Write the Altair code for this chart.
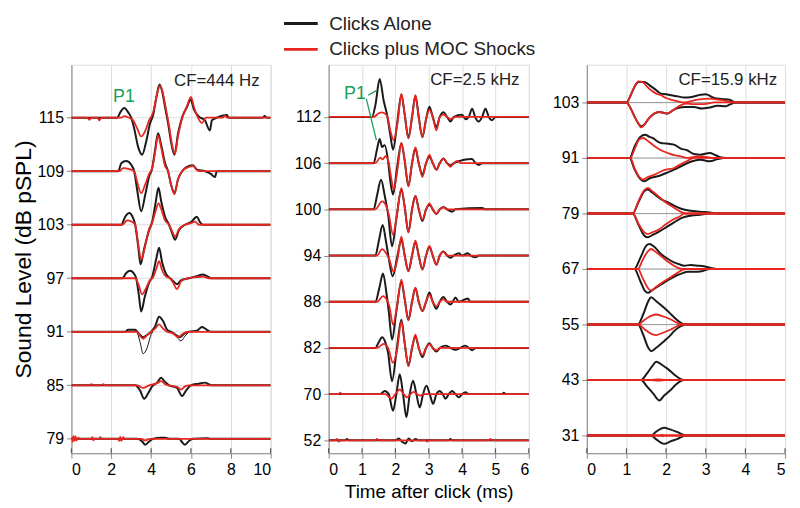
import altair as alt
import pandas as pd

FONT = "Liberation Sans"
BLACK = "#1a1a1a"
RED = "#e8251f"
GREEN = "#1aa05a"
FRAME = "#555555"
TXT = "#222222"

SERIES = ["Clicks Alone", "Clicks plus MOC Shocks"]

# ---------------- Panel A : CF = 444 Hz ----------------
A_LEVELS = [79, 85, 91, 97, 103, 109, 115]
A_XMAX = 10
A_XTICKS = [0, 2, 4, 6, 8, 10]
A_BLACK = {
    115: [(2.3, 0), (2.45, 0.1), (2.65, 0.18), (2.85, 0.1), (3.0, 0.0), (3.15, -0.2), (3.35, -0.55), (3.55, -0.69),
          (3.75, -0.45), (3.95, -0.1), (4.1, 0.05), (4.25, 0.35), (4.42, 0.62), (4.55, 0.5), (4.7, 0.2), (4.85, -0.1),
          (5.0, -0.45), (5.17, -0.69), (5.35, -0.3), (5.55, 0.0), (5.8, 0.2), (5.98, 0.34), (6.15, 0.15), (6.4, 0.02),
          (6.7, -0.05), (6.95, -0.24), (7.05, -0.05), (7.3, 0.0), (7.8, 0.05), (7.9, 0), (9.6, 0), (9.7, 0.03), (9.8, 0)],
    109: [(2.35, 0), (2.5, 0.15), (2.75, 0.19), (3.0, 0.12), (3.15, 0.0), (3.3, -0.35), (3.5, -0.75), (3.7, -0.45),
          (3.9, -0.1), (4.05, 0.05), (4.2, 0.4), (4.35, 0.71), (4.5, 0.5), (4.7, 0.15), (4.85, 0), (5.0, -0.25),
          (5.17, -0.41), (5.35, -0.15), (5.6, 0.02), (5.9, 0.1), (6.1, 0.11), (6.3, 0.03), (6.7, 0), (7.0, -0.05),
          (7.2, -0.11), (7.3, 0)],
    103: [(2.5, 0), (2.7, 0.15), (2.9, 0.22), (3.1, 0.12), (3.2, 0), (3.35, -0.4), (3.47, -0.74), (3.65, -0.45),
          (3.9, -0.1), (4.05, 0.05), (4.22, 0.4), (4.37, 0.69), (4.5, 0.45), (4.7, 0.15), (4.9, 0), (5.05, -0.15),
          (5.2, -0.28), (5.4, -0.1), (5.7, 0), (6.0, 0.05), (6.3, 0.15), (6.45, 0.05), (6.6, 0)],
    97: [(2.55, 0), (2.75, 0.1), (2.95, 0.14), (3.15, 0.08), (3.25, 0), (3.38, -0.3), (3.5, -0.62), (3.68, -0.35),
         (3.9, -0.08), (4.05, 0.02), (4.25, 0.35), (4.4, 0.57), (4.55, 0.3), (4.75, 0.08), (4.95, 0), (5.1, -0.05),
         (5.3, -0.11), (5.5, -0.04), (5.9, 0), (6.3, 0.04), (6.6, 0.07), (6.9, 0.02), (7.0, 0)],
    91: [(2.7, 0), (2.85, 0.04), (3.2, 0.04), (3.3, 0), (3.45, -0.06), (3.6, -0.1), (3.8, -0.06), (4.0, 0),
         (4.2, 0.1), (4.4, 0.28), (4.6, 0.2), (4.8, 0.04), (5.0, 0), (5.2, -0.05), (5.45, -0.1), (5.65, -0.04),
         (5.9, 0), (6.3, 0.02), (6.55, 0.09), (6.75, 0.05), (7.0, 0)],
    85: [(3.2, 0), (3.45, -0.1), (3.65, -0.25), (3.85, -0.15), (4.05, -0.02), (4.3, 0.05), (4.5, 0.14), (4.7, 0.06),
         (4.9, 0), (5.3, -0.05), (5.55, -0.2), (5.75, -0.1), (6.0, 0), (6.4, 0.03), (6.7, 0.05), (6.95, 0.01), (7.05, 0)],
    79: [(3.3, 0), (3.55, -0.05), (3.7, -0.11), (3.9, -0.05), (4.1, 0), (4.5, 0.02), (4.7, 0.02), (4.9, 0), (5.4, 0),
         (5.55, -0.06), (5.7, -0.11), (5.9, -0.04), (6.1, 0), (6.8, 0.01), (7.0, 0)],
}
A_RED = {
    115: [(0.8, 0), (0.9, -0.04), (1.0, 0), (1.3, 0), (1.4, -0.05), (1.5, 0), (2.5, 0), (2.65, 0.03), (2.9, 0),
          (3.1, -0.05), (3.3, -0.2), (3.5, -0.35), (3.7, -0.25), (3.9, -0.05), (4.1, 0.1), (4.3, 0.45), (4.45, 0.6),
          (4.6, 0.45), (4.75, 0.15), (4.9, -0.15), (5.05, -0.5), (5.2, -0.67), (5.35, -0.35), (5.55, -0.02),
          (5.8, 0.22), (6.0, 0.39), (6.15, 0.2), (6.35, 0.0), (6.55, -0.1), (6.75, 0), (7.6, 0), (7.7, 0.04), (7.8, 0)],
    109: [(2.4, 0), (2.6, 0.06), (2.9, 0.04), (3.15, 0), (3.3, -0.2), (3.5, -0.41), (3.7, -0.25), (3.9, -0.05),
          (4.05, 0.05), (4.2, 0.35), (4.35, 0.67), (4.5, 0.45), (4.7, 0.1), (4.85, 0), (5.0, -0.25), (5.17, -0.43),
          (5.35, -0.15), (5.6, 0.02), (5.9, 0.08), (6.1, 0.1), (6.3, 0.02), (6.5, 0)],
    103: [(2.55, 0), (2.8, 0.08), (3.1, 0.04), (3.2, 0), (3.35, -0.35), (3.5, -0.65), (3.7, -0.4), (3.9, -0.08),
          (4.05, 0.03), (4.22, 0.25), (4.37, 0.4), (4.5, 0.3), (4.7, 0.08), (4.9, 0), (5.05, -0.12), (5.2, -0.22),
          (5.4, -0.08), (5.7, 0), (6.0, 0.03), (6.2, 0.06), (6.4, 0)],
    97: [(3.2, 0), (3.35, -0.1), (3.55, -0.3), (3.75, -0.18), (3.95, -0.03), (4.1, 0.02), (4.28, 0.2), (4.4, 0.32),
         (4.55, 0.15), (4.75, 0.03), (4.95, 0), (5.1, -0.08), (5.3, -0.2), (5.5, -0.06), (5.8, 0), (6.3, 0.02),
         (6.6, 0.03), (6.9, 0)],
    91: [(3.3, 0), (3.45, -0.08), (3.6, -0.13), (3.8, -0.06), (4.0, 0), (4.2, 0.06), (4.4, 0.14), (4.6, 0.06),
         (4.8, 0), (5.1, -0.03), (5.35, -0.1), (5.55, -0.05), (5.8, 0)],
    85: [(0.9, 0), (1.0, 0.02), (1.1, 0), (1.5, 0), (1.6, 0.02), (1.7, 0), (3.3, 0), (3.6, -0.05), (3.9, 0),
         (4.3, 0.04), (4.5, 0.08), (4.7, 0.02), (4.9, 0), (5.3, -0.03), (5.5, -0.08), (5.7, -0.02), (5.9, 0)],
    79: [(0.0, 0.03), (0.05, -0.06), (0.1, 0.05), (0.15, -0.04), (0.2, 0.05), (0.25, -0.03), (0.35, 0.02), (0.4, 0),
         (1.0, 0), (1.05, 0.03), (1.1, -0.03), (1.15, 0), (1.4, 0), (1.45, 0.03), (1.5, 0), (2.35, 0), (2.4, -0.04),
         (2.45, 0.04), (2.5, -0.04), (2.6, 0.03), (2.65, 0), (3.5, 0), (3.7, -0.03), (3.9, 0)],
}
# thin black segments of the 91 dB trace
A_THIN = {
    "91a": (91, [(3.3, 0), (3.45, -0.2), (3.6, -0.41), (3.8, -0.3), (4.0, -0.05), (4.1, 0)]),
    "91b": (91, [(5.1, 0), (5.3, -0.1), (5.5, -0.17), (5.7, -0.08), (5.9, 0)]),
}

# ---------------- Panel B : CF = 2.5 kHz ----------------
B_LEVELS = [52, 70, 82, 88, 94, 100, 106, 112]
B_XMAX = 6
B_XTICKS = [0, 1, 2, 3, 4, 5, 6]
B_BLACK = {
    112: [(1.3, 0), (1.4, 0.25), (1.53, 0.82), (1.65, 0.35), (1.75, 0.05), (1.85, -0.4), (1.93, -0.71), (2.05, -0.15),
          (2.18, 0.48), (2.28, 0.05), (2.39, -0.46), (2.5, 0.0), (2.6, 0.46), (2.7, 0.0), (2.81, -0.44), (2.92, -0.05),
          (3.02, 0.22), (3.12, 0), (3.23, -0.22), (3.33, 0), (3.44, 0.1), (3.55, 0), (3.65, -0.1), (3.75, 0),
          (4.0, 0.05), (4.1, -0.05), (4.2, 0), (4.3, 0.18), (4.4, -0.02), (4.5, -0.1), (4.6, 0), (4.7, 0.18),
          (4.8, 0), (4.9, -0.07), (5.0, 0)],
    106: [(1.35, 0), (1.45, 0.3), (1.53, 0.52), (1.6, 0.35), (1.68, 0.39), (1.78, 0.05), (1.85, -0.4), (1.93, -0.68),
          (2.05, -0.1), (2.18, 0.43), (2.28, 0.05), (2.39, -0.5), (2.5, 0), (2.6, 0.32), (2.7, 0), (2.81, -0.25),
          (2.92, 0), (3.02, 0.14), (3.12, 0), (3.23, -0.14), (3.33, 0), (3.44, 0.1), (3.55, 0), (3.65, -0.05),
          (3.75, 0), (4.3, 0.09), (4.4, 0), (4.5, -0.04), (4.6, 0)],
    100: [(1.35, 0), (1.45, 0.3), (1.57, 0.64), (1.68, 0.3), (1.78, -0.1), (1.9, -0.8), (2.03, -0.2), (2.18, 0.43),
          (2.28, 0.05), (2.39, -0.5), (2.5, 0), (2.6, 0.29), (2.7, 0), (2.81, -0.25), (2.92, 0), (3.02, 0.1),
          (3.12, 0), (3.23, -0.1), (3.33, 0), (3.44, 0.05), (3.55, 0), (3.7, -0.05), (3.8, 0), (4.6, 0.03), (4.7, 0)],
    94: [(1.4, 0), (1.5, 0.3), (1.62, 0.66), (1.72, 0.3), (1.8, -0.05), (1.92, -0.45), (2.05, -0.05), (2.18, 0.34),
         (2.28, 0), (2.39, -0.34), (2.5, 0), (2.6, 0.3), (2.7, 0), (2.81, -0.3), (2.92, 0), (3.02, 0.19), (3.12, 0),
         (3.23, -0.2), (3.33, 0), (3.44, 0.09), (3.55, 0), (3.65, -0.05), (3.75, 0), (3.9, 0.05), (4.0, 0),
         (4.17, 0.05), (4.25, 0), (4.4, -0.04), (4.5, 0)],
    88: [(1.4, 0), (1.52, 0.3), (1.63, 0.61), (1.73, 0.2), (1.8, -0.2), (1.9, -0.82), (2.03, -0.2), (2.18, 0.43),
         (2.28, 0.05), (2.39, -0.4), (2.5, 0), (2.6, 0.3), (2.7, 0), (2.81, -0.2), (2.92, 0), (3.02, 0.2), (3.12, 0),
         (3.23, -0.15), (3.33, 0), (3.44, 0.1), (3.55, 0), (3.65, -0.06), (3.72, 0), (3.8, 0.09), (3.9, 0),
         (4.17, 0.07), (4.25, 0)],
    82: [(1.4, 0), (1.5, 0.12), (1.6, 0.23), (1.7, 0.12), (1.78, -0.1), (1.9, -0.72), (2.03, -0.1), (2.18, 0.61),
         (2.28, 0.1), (2.39, -0.39), (2.5, 0), (2.6, 0.25), (2.7, 0), (2.81, -0.2), (2.92, 0), (3.02, 0.1), (3.12, 0),
         (3.23, -0.08), (3.33, 0), (3.5, 0.05), (3.65, 0), (3.8, -0.04), (3.95, 0), (4.1, 0.05), (4.2, 0),
         (4.3, -0.05), (4.4, 0)],
    70: [(1.55, 0), (1.68, 0.07), (1.8, 0), (1.93, -0.36), (2.03, 0), (2.13, 0.43), (2.23, 0), (2.33, -0.5),
         (2.43, 0), (2.53, 0.29), (2.63, 0), (2.73, -0.29), (2.83, 0), (2.93, 0.18), (3.03, 0), (3.13, -0.21),
         (3.23, 0), (3.33, 0.07), (3.42, 0), (3.5, -0.1), (3.6, 0), (3.7, 0.07), (3.8, 0), (3.9, -0.07), (4.0, 0),
         (4.1, 0.04), (4.2, 0), (5.2, 0), (5.25, 0.03), (5.3, 0)],
    52: [(0.5, 0), (0.55, 0.03), (0.6, 0), (2.0, 0), (2.1, 0.04), (2.2, -0.03), (2.3, -0.07), (2.4, 0.04),
         (2.5, -0.02), (2.6, 0.03), (2.7, 0), (3.6, 0), (3.65, 0.03), (3.7, 0)],
}
B_RED = {
    112: [(1.35, 0), (1.5, 0.08), (1.6, 0.1), (1.75, 0.03), (1.85, -0.3), (1.95, -0.5), (2.07, -0.1), (2.18, 0.5),
          (2.28, 0.05), (2.39, -0.46), (2.5, 0), (2.6, 0.47), (2.7, 0), (2.81, -0.43), (2.92, -0.05), (3.02, 0.16),
          (3.12, 0), (3.23, -0.29), (3.33, 0), (3.44, 0.05), (3.55, 0), (3.65, -0.05), (3.8, 0)],
    106: [(1.4, 0), (1.55, 0.12), (1.62, 0.08), (1.7, 0.15), (1.8, 0.02), (1.87, -0.3), (1.95, -0.57), (2.07, -0.1),
          (2.18, 0.44), (2.28, 0.05), (2.39, -0.5), (2.5, 0), (2.6, 0.34), (2.7, 0), (2.81, -0.3), (2.92, 0),
          (3.02, 0.18), (3.12, 0), (3.23, -0.14), (3.33, 0), (3.44, 0.1), (3.55, 0), (3.65, -0.08), (3.75, 0),
          (3.86, 0.05), (3.95, 0)],
    100: [(1.4, 0), (1.6, 0.17), (1.72, 0.08), (1.8, -0.1), (1.93, -0.55), (2.05, -0.1), (2.18, 0.46), (2.28, 0.05),
          (2.39, -0.5), (2.5, 0), (2.6, 0.29), (2.7, 0), (2.81, -0.22), (2.92, 0), (3.02, 0.13), (3.12, 0),
          (3.23, -0.1), (3.33, 0), (3.44, 0.04), (3.55, 0)],
    94: [(1.45, 0), (1.6, 0.14), (1.72, 0.05), (1.8, -0.05), (1.95, -0.35), (2.07, -0.05), (2.18, 0.41), (2.28, 0),
         (2.39, -0.34), (2.5, 0), (2.6, 0.32), (2.7, 0), (2.81, -0.3), (2.92, 0), (3.02, 0.21), (3.12, 0),
         (3.23, -0.2), (3.33, 0), (3.44, 0.08), (3.55, 0)],
    88: [(1.45, 0), (1.63, 0.12), (1.75, 0.03), (1.82, -0.1), (1.93, -0.5), (2.05, -0.1), (2.18, 0.48), (2.28, 0.05),
         (2.39, -0.4), (2.5, 0), (2.6, 0.3), (2.7, 0), (2.81, -0.2), (2.92, 0), (3.02, 0.15), (3.12, 0),
         (3.23, -0.1), (3.33, 0), (3.44, 0.05), (3.55, 0)],
    82: [(1.45, 0), (1.65, 0.09), (1.78, 0.0), (1.93, -0.32), (2.05, -0.05), (2.18, 0.57), (2.28, 0.1), (2.39, -0.39),
         (2.5, 0), (2.6, 0.29), (2.7, 0), (2.81, -0.15), (2.92, 0), (3.02, 0.08), (3.12, 0), (3.23, -0.05),
         (3.35, 0)],
    70: [(0.3, 0), (0.35, 0.03), (0.4, 0), (1.7, 0), (1.88, -0.1), (2.0, 0), (2.13, 0.1), (2.25, 0), (2.35, -0.07),
         (2.45, 0), (2.55, 0.05), (2.65, 0), (2.75, -0.03), (2.85, 0)],
    52: [(0.2, 0), (0.25, 0.03), (0.3, -0.03), (0.35, 0), (1.4, 0), (1.45, 0.03), (1.5, 0), (2.9, 0), (2.95, -0.03),
         (3.0, 0), (4.8, 0), (4.85, 0.03), (4.9, 0)],
}

# ---------------- Panel C : CF = 15.9 kHz ----------------
C_LEVELS = [31, 43, 55, 67, 79, 91, 103]
C_XMAX = 5
C_XTICKS = [0, 1, 2, 3, 4, 5]
C_BLACK_UP = {
    103: [(1.0, 0), (1.1, 0.12), (1.2, 0.28), (1.3, 0.37), (1.45, 0.37), (1.6, 0.3), (1.7, 0.25), (1.87, 0.16),
          (2.0, 0.15), (2.12, 0.13), (2.3, 0.11), (2.45, 0.09), (2.65, 0.1), (2.87, 0.14), (3.0, 0.15), (3.15, 0.1),
          (3.28, 0.07), (3.45, 0.06), (3.6, 0.05), (3.75, 0)],
    91: [(1.08, 0), (1.2, 0.2), (1.35, 0.38), (1.47, 0.42), (1.58, 0.38), (1.66, 0.36), (1.78, 0.3), (1.87, 0.27),
         (2.0, 0.26), (2.2, 0.24), (2.37, 0.17), (2.53, 0.14), (2.7, 0.07), (2.87, 0.06), (3.1, 0.09), (3.25, 0.05),
         (3.4, 0.01), (3.6, 0)],
    79: [(1.16, 0), (1.3, 0.2), (1.45, 0.4), (1.54, 0.43), (1.65, 0.38), (1.79, 0.3), (1.87, 0.26), (2.05, 0.2),
         (2.2, 0.14), (2.4, 0.08), (2.62, 0.05), (2.85, 0.03), (3.1, 0.02), (3.3, 0)],
    67: [(1.2, 0), (1.35, 0.2), (1.5, 0.42), (1.58, 0.45), (1.7, 0.4), (1.87, 0.27), (2.05, 0.18), (2.2, 0.12),
         (2.35, 0.08), (2.45, 0.06), (2.62, 0.07), (2.8, 0.06), (2.95, 0.05), (3.2, 0.01), (3.3, 0)],
    55: [(1.29, 0), (1.42, 0.18), (1.55, 0.42), (1.62, 0.49), (1.75, 0.42), (1.95, 0.3), (2.1, 0.2), (2.2, 0.13),
         (2.37, 0.03), (2.5, 0)],
    43: [(1.37, 0), (1.5, 0.1), (1.65, 0.25), (1.75, 0.33), (1.9, 0.27), (2.04, 0.2), (2.2, 0.1), (2.29, 0.05),
         (2.45, 0)],
    31: [(1.62, 0), (1.75, 0.07), (1.95, 0.14), (2.1, 0.11), (2.29, 0.06), (2.5, 0)],
}
C_BLACK_LO = {
    103: [(1.0, 0), (1.1, -0.1), (1.2, -0.25), (1.3, -0.38), (1.37, -0.43), (1.45, -0.4), (1.55, -0.3), (1.7, -0.2),
          (1.83, -0.17), (1.95, -0.19), (2.04, -0.2), (2.15, -0.15), (2.29, -0.1), (2.5, -0.08), (2.7, -0.08),
          (2.9, -0.11), (3.1, -0.09), (3.3, -0.06), (3.5, -0.07), (3.6, -0.04), (3.75, 0)],
    91: [(1.08, 0), (1.2, -0.2), (1.35, -0.38), (1.45, -0.42), (1.6, -0.36), (1.79, -0.33), (2.0, -0.27),
         (2.2, -0.21), (2.4, -0.14), (2.54, -0.09), (2.7, -0.05), (2.87, -0.03), (3.0, -0.05), (3.1, -0.06),
         (3.3, -0.02), (3.45, 0)],
    79: [(1.16, 0), (1.3, -0.2), (1.45, -0.4), (1.54, -0.43), (1.65, -0.39), (1.79, -0.34), (2.0, -0.25),
         (2.2, -0.16), (2.4, -0.08), (2.62, -0.04), (2.9, -0.02), (3.1, 0)],
    67: [(1.2, 0), (1.35, -0.22), (1.47, -0.4), (1.54, -0.43), (1.65, -0.38), (1.87, -0.28), (2.05, -0.2),
         (2.2, -0.14), (2.4, -0.08), (2.54, -0.05), (2.7, -0.05), (2.9, -0.04), (3.1, 0)],
    55: [(1.29, 0), (1.42, -0.18), (1.55, -0.42), (1.62, -0.48), (1.75, -0.42), (1.95, -0.3), (2.1, -0.2),
         (2.2, -0.12), (2.37, -0.03), (2.5, 0)],
    43: [(1.37, 0), (1.5, -0.1), (1.68, -0.25), (1.83, -0.37), (1.95, -0.28), (2.1, -0.19), (2.25, -0.08),
         (2.45, 0)],
    31: [(1.62, 0), (1.75, -0.07), (1.95, -0.15), (2.1, -0.11), (2.29, -0.06), (2.5, 0)],
}
C_RED_UP = {
    103: [(1.0, 0), (1.1, 0.12), (1.2, 0.28), (1.3, 0.38), (1.4, 0.37), (1.5, 0.3), (1.62, 0.22), (1.75, 0.16),
          (1.87, 0.13), (2.0, 0.08), (2.12, 0.05), (2.3, 0.02), (2.45, 0), (2.6, 0.02), (2.8, 0.05), (3.1, 0.07),
          (3.3, 0.05), (3.45, 0.04), (3.6, 0.01), (3.7, 0)],
    91: [(1.1, 0), (1.2, 0.15), (1.32, 0.33), (1.42, 0.36), (1.55, 0.3), (1.71, 0.21), (1.87, 0.14), (2.04, 0.09),
         (2.2, 0.05), (2.37, 0.03), (2.55, 0.0), (2.8, 0.03), (3.0, 0.02), (3.2, 0)],
    79: [(1.16, 0), (1.3, 0.22), (1.45, 0.42), (1.54, 0.46), (1.65, 0.4), (1.79, 0.32), (1.95, 0.22), (2.12, 0.14),
         (2.25, 0.08), (2.37, 0.03), (2.5, 0)],
    67: [(1.29, 0), (1.4, 0.15), (1.52, 0.3), (1.62, 0.36), (1.75, 0.3), (1.91, 0.21), (2.05, 0.13), (2.2, 0.06),
         (2.3, 0.02), (2.4, 0)],
    55: [(1.3, 0), (1.45, 0.08), (1.6, 0.15), (1.75, 0.18), (1.95, 0.14), (2.12, 0.09), (2.25, 0.04), (2.37, 0)],
    43: [(1.6, 0), (1.8, 0.01), (2.0, 0)],
    31: [(1.8, 0), (1.9, 0.01), (2.0, 0)],
}
C_RED_LO = {
    103: [(1.0, 0), (1.1, -0.1), (1.2, -0.25), (1.3, -0.38), (1.37, -0.45), (1.45, -0.4), (1.55, -0.3), (1.7, -0.2),
          (1.8, -0.17), (1.95, -0.19), (2.04, -0.2), (2.15, -0.15), (2.29, -0.08), (2.5, -0.02), (2.7, -0.03),
          (2.87, -0.03), (3.05, -0.02), (3.2, 0)],
    91: [(1.1, 0), (1.2, -0.18), (1.32, -0.34), (1.42, -0.39), (1.55, -0.34), (1.71, -0.3), (1.95, -0.22),
         (2.2, -0.18), (2.4, -0.1), (2.54, -0.05), (2.7, 0)],
    79: [(1.16, 0), (1.3, -0.18), (1.45, -0.34), (1.54, -0.37), (1.65, -0.34), (1.79, -0.3), (2.0, -0.19),
         (2.2, -0.1), (2.35, -0.05), (2.45, 0)],
    67: [(1.29, 0), (1.4, -0.15), (1.52, -0.32), (1.62, -0.39), (1.75, -0.32), (1.95, -0.22), (2.2, -0.11),
         (2.4, -0.02), (2.5, 0)],
    55: [(1.3, 0), (1.45, -0.08), (1.6, -0.16), (1.75, -0.19), (1.95, -0.14), (2.12, -0.09), (2.25, -0.04),
         (2.37, 0)],
    43: [(1.6, 0), (1.8, -0.01), (2.0, 0)],
    31: [(1.8, 0), (1.9, -0.01), (2.0, 0)],
}

# ---------------- annotations ----------------
CF_TEXT = ["CF=444 Hz", "CF=2.5 kHz", "CF=15.9 kHz"]
CF_POS = [(9.45, 6.69), (5.72, 7.79), (4.8, 6.4)]
P1_A_POS = (2.64, 6.38)
P1_B_POS = (0.79, 7.49)
P1_B_LEADERS = [(1.18, 7.47, 1.43, 7.57), (1.13, 7.39, 1.43, 6.5)]

# y-domains in "trace index" units (bottom, top)
A_YDOM = [-0.27, 6.99]
B_YDOM = [-0.28, 8.13]
C_YDOM = [-0.32, 6.68]

W_A, W_B, W_C, H = 201, 202, 200, 392


def build(levels, table, series, xmax, tag, pad=True):
    rows = []
    for key, pts in table.items():
        if isinstance(pts, tuple):
            lvl, pts = pts
        else:
            lvl = key
        idx = levels.index(lvl)
        p = list(pts)
        if pad and p[0][0] > 0:
            p = [(0.0, 0.0)] + p
        if pad and p[-1][0] < xmax:
            p = p + [(float(xmax), 0.0)]
        for k, (t, a) in enumerate(p):
            rows.append({"t": t, "y": idx + a, "series": series, "trace": f"{tag}-{key}", "k": k})
    return pd.DataFrame(rows)


color_scale = alt.Scale(domain=SERIES, range=[BLACK, RED])
legend = alt.Legend(title=None, orient="none", legendX=220, legendY=-53, symbolType="M-1.7,0H1.7",
                    symbolSize=400, symbolStrokeWidth=3, labelFontSize=19, labelFont=FONT,
                    labelColor=TXT, rowPadding=4, padding=0, labelOffset=17, labelLimit=0)


def panel(levels, xmax, xticks, ydom, width, black_dfs, red_dfs, extra_layers, ytitle, xtitle):
    xscale = alt.Scale(domain=[0, xmax], nice=False, zero=False)
    yscale = alt.Scale(domain=ydom, nice=False, zero=False)
    lab = "[" + ",".join(f"'{v}'" for v in levels) + "][datum.value]"
    xaxis = alt.Axis(values=xticks, format="d", labelFontSize=16, labelPadding=3, title=xtitle,
                     titleFontSize=19, titleFontWeight="normal", titlePadding=6)
    yaxis = alt.Axis(values=list(range(len(levels))), labelExpr=lab, labelFontSize=16, labelPadding=3,
                     title=ytitle, titleFontSize=23, titleFontWeight="normal", titlePadding=2)
    layers = []
    for df in extra_layers.get("thin", []):
        layers.append(alt.Chart(df).mark_line(color=BLACK, strokeWidth=1.0, clip=True, interpolate="monotone").encode(
            x=alt.X("t:Q", scale=xscale, axis=xaxis), y=alt.Y("y:Q", scale=yscale, axis=yaxis),
            detail="trace:N", order="k:Q"))
    for df in extra_layers.get("zero", []):
        layers.append(alt.Chart(df).mark_rule(color="#8a8a8a", strokeWidth=0.8).encode(
            y=alt.Y("y:Q", scale=yscale, axis=yaxis)))
    for df, sw in [(d, 2.0) for d in black_dfs] + [(d, 1.8) for d in red_dfs]:
        layers.append(alt.Chart(df).mark_line(strokeWidth=sw, clip=True, strokeJoin="round",
                                              interpolate="monotone").encode(
            x=alt.X("t:Q", scale=xscale, axis=xaxis),
            y=alt.Y("y:Q", scale=yscale, axis=yaxis),
            color=alt.Color("series:N", scale=color_scale, legend=legend),
            detail="trace:N", order="k:Q"))
    ticks = pd.DataFrame({"v": xticks})
    layers.append(alt.Chart(ticks).mark_rule(color=FRAME, strokeWidth=1.2).encode(
        x=alt.X("v:Q", scale=xscale, axis=xaxis), y=alt.value(H), y2=alt.value(H - 5)))
    for ch in extra_layers.get("annot", []):
        layers.append(ch(xscale, yscale, xaxis, yaxis))
    return alt.layer(*layers).properties(width=width, height=H)


def cf_text(i):
    def f(xs, ys, xa, ya):
        d = pd.DataFrame({"t": [CF_POS[i][0]], "y": [CF_POS[i][1]], "s": [CF_TEXT[i]]})
        return alt.Chart(d).mark_text(align="right", baseline="middle", fontSize=17, font=FONT, color=TXT).encode(
            x=alt.X("t:Q", scale=xs, axis=xa), y=alt.Y("y:Q", scale=ys, axis=ya), text="s:N")
    return f


def p1_text(pos):
    def f(xs, ys, xa, ya):
        d = pd.DataFrame({"t": [pos[0]], "y": [pos[1]], "s": ["P1"]})
        return alt.Chart(d).mark_text(align="center", baseline="middle", fontSize=18, font=FONT, color=GREEN).encode(
            x=alt.X("t:Q", scale=xs, axis=xa), y=alt.Y("y:Q", scale=ys, axis=ya), text="s:N")
    return f


def p1_leaders(xs, ys, xa, ya):
    d = pd.DataFrame(P1_B_LEADERS, columns=["t", "y", "t2", "y2"])
    return alt.Chart(d).mark_rule(color=GREEN, strokeWidth=1.3).encode(
        x=alt.X("t:Q", scale=xs, axis=xa), y=alt.Y("y:Q", scale=ys, axis=ya), x2="t2:Q", y2="y2:Q")


# ----- panel A -----
pa = panel(A_LEVELS, A_XMAX, A_XTICKS, A_YDOM, W_A,
           [build(A_LEVELS, A_BLACK, SERIES[0], A_XMAX, "ab")],
           [build(A_LEVELS, A_RED, SERIES[1], A_XMAX, "ar")],
           {"thin": [build(A_LEVELS, A_THIN, "thin", A_XMAX, "at", pad=False)],
            "annot": [cf_text(0), p1_text(P1_A_POS)]},
           "Sound Level (dB pSPL)", None)

# ----- panel B -----
pb = panel(B_LEVELS, B_XMAX, B_XTICKS, B_YDOM, W_B,
           [build(B_LEVELS, B_BLACK, SERIES[0], B_XMAX, "bb")],
           [build(B_LEVELS, B_RED, SERIES[1], B_XMAX, "br")],
           {"annot": [cf_text(1), p1_text(P1_B_POS), p1_leaders]},
           None, "Time after click (ms)")

# ----- panel C -----
zero_c = pd.DataFrame({"y": list(range(len(C_LEVELS)))})
pc = panel(C_LEVELS, C_XMAX, C_XTICKS, C_YDOM, W_C,
           [build(C_LEVELS, C_BLACK_UP, SERIES[0], C_XMAX, "cbu"),
            build(C_LEVELS, C_BLACK_LO, SERIES[0], C_XMAX, "cbl")],
           [build(C_LEVELS, C_RED_UP, SERIES[1], C_XMAX, "cru"),
            build(C_LEVELS, C_RED_LO, SERIES[1], C_XMAX, "crl")],
           {"zero": [zero_c], "annot": [cf_text(2)]},
           None, None)

chart = alt.hconcat(pa, pb, pc, spacing=58.5, bounds="flush").resolve_scale(
    color="shared").resolve_legend(color="shared").properties(
    padding={"left": 3, "top": 2, "right": 5, "bottom": 5}
).configure_view(stroke=FRAME, strokeWidth=1.5).configure_axis(
    labelFont=FONT, titleFont=FONT, labelColor=TXT, titleColor=TXT, grid=False, domain=False, ticks=False
).configure(background="white")

chart.save("out.html", embed_options={"renderer": "svg", "actions": False})
